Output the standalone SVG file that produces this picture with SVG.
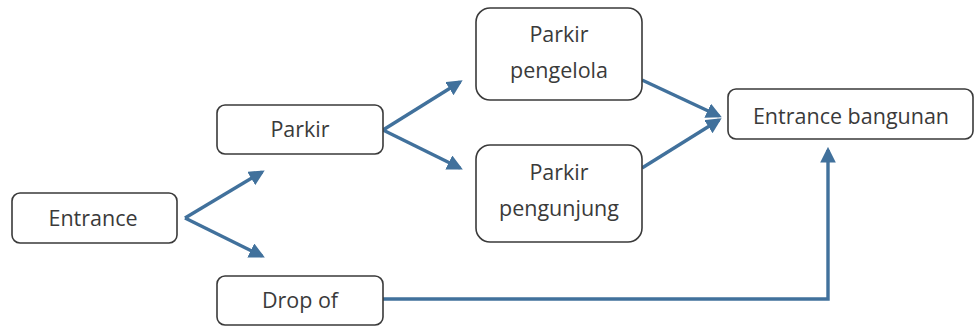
<svg xmlns="http://www.w3.org/2000/svg" width="979" height="329" viewBox="0 0 979 329">
<defs>
<style>
.box{fill:#fff;stroke:#3a3a3a;stroke-width:1.6}
.t{font-family:"Open Sans","Liberation Sans",sans-serif;font-size:21.5px;fill:#3a3a3a;text-anchor:middle}
.c{fill:none;stroke:#41719c;stroke-width:3.4}
</style>
<marker id="ah" viewBox="0 0 10 10" refX="8" refY="5" markerWidth="4.6" markerHeight="4.6" markerUnits="strokeWidth" orient="auto">
<path d="M0,0 L10,5 L0,10 Z" fill="#41719c"/>
</marker>
</defs>
<rect width="979" height="329" fill="#fff"/>
<g id="connectors">
<path class="c" d="M185,218 L262,172" marker-end="url(#ah)"/>
<path class="c" d="M185,218 L262,256" marker-end="url(#ah)"/>
<path class="c" d="M383,130 L460,82" marker-end="url(#ah)"/>
<path class="c" d="M383,130 L460,168" marker-end="url(#ah)"/>
<path class="c" d="M642,80 L719,116" marker-end="url(#ah)"/>
<path class="c" d="M642,168 L719,120" marker-end="url(#ah)"/>
<path class="c" d="M383,299 L828,299 L828,150" marker-end="url(#ah)"/>
</g>
<g id="entrance">
<rect class="box" x="12" y="193" width="165" height="50" rx="8"/>
<text class="t" x="93" y="226">Entrance</text>
</g>
<g id="parkir">
<rect class="box" x="217" y="105" width="166" height="49" rx="8"/>
<text class="t" x="300" y="137">Parkir</text>
</g>
<g id="dropof">
<rect class="box" x="217" y="276" width="166" height="49" rx="8"/>
<text class="t" x="300" y="308">Drop of</text>
</g>
<g id="parkir-pengelola">
<rect class="box" x="476" y="8" width="166" height="92" rx="14"/>
<text class="t" x="559" y="42">Parkir</text>
<text class="t" x="559" y="78">pengelola</text>
</g>
<g id="parkir-pengunjung">
<rect class="box" x="476" y="145" width="166" height="97" rx="14"/>
<text class="t" x="559" y="180">Parkir</text>
<text class="t" x="559" y="216">pengunjung</text>
</g>
<g id="entrance-bangunan">
<rect class="box" x="728" y="89" width="245" height="50" rx="8"/>
<text class="t" x="851" y="124">Entrance bangunan</text>
</g>
</svg>
